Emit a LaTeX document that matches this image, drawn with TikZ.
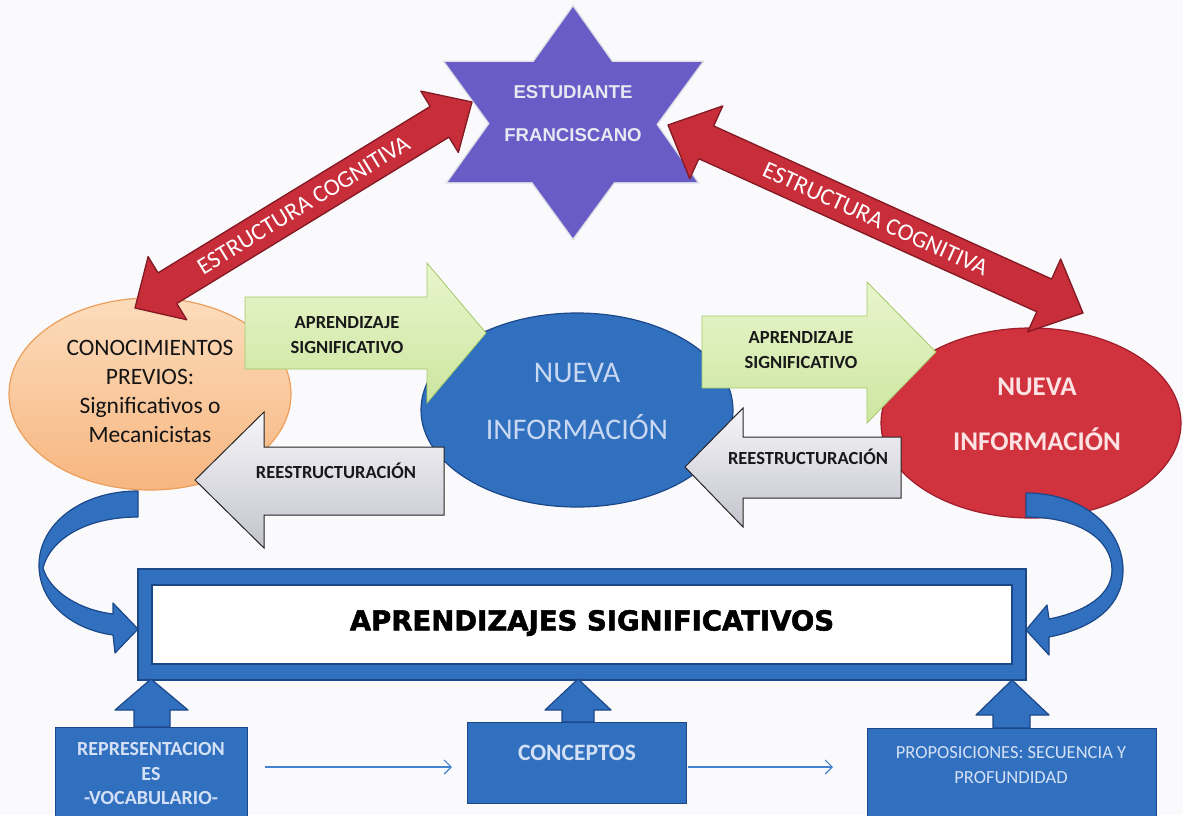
\documentclass[tikz,border=0pt]{standalone}
\usepackage{fontspec}
\setmainfont{Carlito}
\newfontfamily\arialfont{Liberation Sans}
\newfontfamily\titlefont[BoldFeatures={FakeBold=2}]{DejaVu Sans}
\usetikzlibrary{shapes.geometric,arrows.meta,calc}
\definecolor{bgc}{RGB}{250,250,252}
\definecolor{starc}{RGB}{106,92,198}
\definecolor{staredge}{RGB}{222,222,230}
\definecolor{redA}{RGB}{200,45,58}
\definecolor{redAd}{RGB}{130,25,35}
\definecolor{orTop}{RGB}{252,220,188}
\definecolor{orBot}{RGB}{247,182,128}
\definecolor{orEdge}{RGB}{236,158,90}
\definecolor{blueM}{RGB}{48,112,190}
\definecolor{blueD}{RGB}{28,72,138}
\definecolor{redE}{RGB}{208,50,62}
\definecolor{redEd}{RGB}{160,30,42}
\definecolor{grTop}{RGB}{232,245,205}
\definecolor{grBot}{RGB}{205,230,160}
\definecolor{grEdge}{RGB}{165,200,105}
\definecolor{gyTop}{RGB}{246,246,249}
\definecolor{gyBot}{RGB}{196,196,206}
\definecolor{lightblue}{RGB}{200,215,242}
\definecolor{boxtxt}{RGB}{212,224,246}
\definecolor{redtxt}{RGB}{252,226,226}
\definecolor{startxt}{RGB}{232,232,242}
\definecolor{thinblue}{RGB}{70,130,205}
\begin{document}
\begin{tikzpicture}[x=1pt,y=-1pt,
  ell/.style={ellipse, inner sep=0pt, outer sep=0pt},
  redarrow/.style={fill=redA, draw=redAd, line width=1.3pt, line join=round},
  greenarrow/.style={top color=grTop, bottom color=grBot, draw=grEdge, line width=0.8pt},
  grayarrow/.style={top color=gyTop, bottom color=gyBot, draw=black!85, line width=1pt},
  bluefill/.style={fill=blueM, draw=blueD, line width=1.2pt, line join=round},
  rottext/.style={text=white, font=\fontsize{24}{28}\selectfont, inner sep=0pt},
  arrowlabel/.style={font=\bfseries\fontsize{18.5}{25}\selectfont, align=center, text=black!90, inner sep=0pt},
  bluebox/.style={rectangle, fill=blueM, draw=blueD, line width=1.2pt, inner sep=0pt, anchor=north west},
  boxlabel/.style={text=boxtxt, align=center, inner sep=0pt},
  thinarrow/.style={draw=thinblue, line width=1.1pt, -{Straight Barb[length=7pt,width=14pt]}}
]
\useasboundingbox (0,0) rectangle (1183,815);
\clip (0,0) rectangle (1183,815);
\fill[bgc] (0,0) rectangle (1183,815);

% star
\draw[staredge, line width=3pt] (573,7) -- (448,182) -- (697,182) -- cycle;
\draw[staredge, line width=3pt] (573,238) -- (445,62) -- (702,62) -- cycle;
\fill[starc] (573,7) -- (448,182) -- (697,182) -- cycle;
\fill[starc] (573,238) -- (445,62) -- (702,62) -- cycle;

% ellipses
\node[ell, minimum width=300pt, minimum height=190pt, fill=redE, draw=redEd, line width=1.2pt] (nir) at (1031,423) {};
\node[ell, minimum width=312pt, minimum height=194pt, bluefill] (nib) at (577,410) {};
\node[ell, minimum width=282pt, minimum height=192pt, top color=orTop, bottom color=orBot, draw=orEdge, line width=1.2pt] (prev) at (150,394) {};

% green arrows
\path[greenarrow] (245,297) -- (427,297) -- (427,263) -- (486,333) -- (427,403) -- (427,369) -- (245,369) -- cycle;
\path[greenarrow] (702,316) -- (867,316) -- (867,282) -- (936,352) -- (867,423) -- (867,388) -- (702,388) -- cycle;

% gray arrows
\path[grayarrow] (444,447) -- (264,447) -- (264,412) -- (195,480) -- (264,548) -- (264,515) -- (444,515) -- cycle;
\path[grayarrow] (901,437) -- (743,437) -- (743,408) -- (685,467) -- (743,527) -- (743,498) -- (901,498) -- cycle;

% red double arrows
\coordinate (lA) at (135,308);
\coordinate (lB) at (472,102);
\coordinate (rA) at (668,125);
\coordinate (rB) at (1083,313);
\begin{scope}[shift={(lA)}, rotate=31.44]
\path[redarrow] (0pt,0pt) -- (38pt,37pt) -- (38pt,18pt) -- (357pt,18pt) -- (357pt,36pt) -- (395pt,0pt) -- (357pt,-36pt) -- (357pt,-18pt) -- (38pt,-18pt) -- (38pt,-37pt) -- cycle;
\end{scope}
\begin{scope}[shift={(rA)}, rotate=-24.37]
\path[redarrow] (0pt,0pt) -- (42pt,40pt) -- (42pt,18pt) -- (413pt,18pt) -- (413pt,40pt) -- (455.6pt,0pt) -- (413pt,-40pt) -- (413pt,-18pt) -- (42pt,-18pt) -- (42pt,-40pt) -- cycle;
\end{scope}
\node[rottext, rotate=31.44] (ecl) at ($(lA)!0.5!(lB)$) {ESTRUCTURA COGNITIVA};
\node[rottext, rotate=-24.37] (ecr) at ($(rA)!0.5!(rB)$) {ESTRUCTURA COGNITIVA};

% curved arrows
\path[bluefill] (138,491) .. controls (80,491) and (39,525) .. (39,565) .. controls (39,605) and (75,630) .. (113,635) -- (115,653) -- (138,629) -- (113,603) -- (113,614) .. controls (80,610) and (50,592) .. (43,568) .. controls (50,540) and (85,517) .. (138,517) -- cycle;
\path[bluefill] (1026,493) .. controls (1085,493) and (1123,530) .. (1123,570) .. controls (1123,605) and (1095,628) .. (1049,637) -- (1049,655) -- (1026,630) -- (1047,605) -- (1049,619) .. controls (1085,612) and (1112,595) .. (1112,570) .. controls (1112,540) and (1080,517) .. (1026,517) -- cycle;

% main frame
\node[rectangle, fill=blueM, draw=blueD, line width=1.2pt, minimum width=888pt, minimum height=111pt, inner sep=0pt] (frame) at (582,624.5) {};
\node[rectangle, fill=white, draw=blueD, line width=1.2pt, minimum width=860pt, minimum height=79pt, inner sep=0pt] (main) at (582,624.5) {};
\node[font=\titlefont\bfseries\fontsize{27.5}{30}\selectfont, inner sep=0pt] (title) at (592,623) {APRENDIZAJES SIGNIFICATIVOS};

% up arrows
\path[bluefill] (151,679) -- (188,710) -- (170,710) -- (170,727) -- (134,727) -- (134,710) -- (115,710) -- cycle;
\path[bluefill] (578,679) -- (611,710) -- (594,710) -- (594,722) -- (562,722) -- (562,710) -- (545,710) -- cycle;
\path[bluefill] (1012,680) -- (1049,715) -- (1030,715) -- (1030,728) -- (993,728) -- (993,715) -- (976,715) -- cycle;

% boxes
\node[bluebox, minimum width=192pt, minimum height=110pt] (rep) at (55,727) {};
\node[bluebox, minimum width=219pt, minimum height=81pt] (conc) at (467,722) {};
\node[bluebox, minimum width=289pt, minimum height=110pt] (prop) at (867,728) {};

% thin arrows
\draw[thinarrow] ([shift={(17,40)}]rep.north east) -- ([shift={(-15,45)}]conc.north west);
\draw[thinarrow] ([shift={(1,45)}]conc.north east) -- ([shift={(-34,39)}]prop.north west);

% labels
\node[font=\arialfont\bfseries\fontsize{18.6}{43}\selectfont, text=startxt, align=center, inner sep=0pt] (star) at (573,113.5) {ESTUDIANTE\\FRANCISCANO};
\node[font=\fontsize{23.5}{29}\selectfont, align=center, text=black!92, inner sep=0pt] (prevtxt) at (150,391.5) {CONOCIMIENTOS\\PREVIOS:\\Significativos o\\Mecanicistas};
\node[font=\fontsize{30}{57}\selectfont, align=center, text=lightblue, inner sep=0pt] (nibtxt) at (577,401.5) {NUEVA\\INFORMACIÓN};
\node[font=\bfseries\fontsize{27}{55}\selectfont, align=center, text=redtxt, inner sep=0pt] (nirtxt) at (1037,414.5) {NUEVA\\INFORMACIÓN};
\node[arrowlabel] (ap1) at (347,335.5) {APRENDIZAJE\\SIGNIFICATIVO};
\node[arrowlabel] (ap2) at (801,350.5) {APRENDIZAJE\\SIGNIFICATIVO};
\node[arrowlabel] (re1) at (336,471) {REESTRUCTURACIÓN};
\node[arrowlabel] (re2) at (808,457) {REESTRUCTURACIÓN};
\node[boxlabel, font=\bfseries\fontsize{20}{24.5}\selectfont] (reptxt) at (151,773.5) {REPRESENTACION\\ES\\-VOCABULARIO-};
\node[boxlabel, font=\bfseries\fontsize{23.5}{28}\selectfont] (conctxt) at (577,753) {CONCEPTOS};
\node[boxlabel, font=\fontsize{18.5}{25}\selectfont] (proptxt) at (1011,765.5) {PROPOSICIONES: SECUENCIA Y\\PROFUNDIDAD};
\end{tikzpicture}
\end{document}
